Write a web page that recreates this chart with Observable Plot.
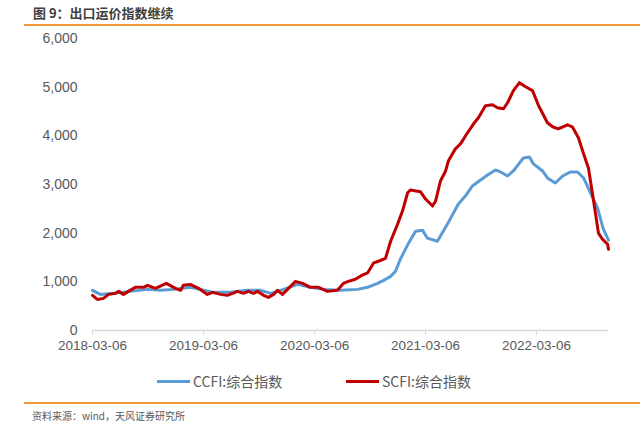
<!DOCTYPE html>
<html>
<head>
<meta charset="utf-8">
<script src="https://cdn.jsdelivr.net/npm/d3@7"></script>
<script src="https://cdn.jsdelivr.net/npm/@observablehq/plot@0.6"></script>
<style>
  body { margin: 0; background: #fff; }
  #wrap { position: relative; width: 640px; height: 427px; overflow: hidden; font-family: "Liberation Sans", "Noto Sans CJK SC", sans-serif; }
  #title { position: absolute; left: 33px; top: 3px; font-size: 13px; font-weight: bold; color: #404040; font-family: "Noto Sans CJK SC", sans-serif; }
  .rule { position: absolute; left: 24px; width: 616px; height: 1.5px; background: #F39A3C; }
  #chart { position: absolute; left: 0; top: 30px; }
  #legend { position: absolute; top: 371px; left: 0; width: 640px; height: 20px; font-size: 14px; color: #595959; font-family: "Noto Sans CJK SC", sans-serif; }
  .item { position: absolute; top: 0; display: flex; align-items: center; height: 20px; }
  .swatch { width: 33px; height: 3px; margin-right: 3px; }
  #source { position: absolute; left: 32px; top: 408px; font-size: 10px; color: #595959; font-family: "Noto Sans CJK SC", sans-serif; }
</style>
</head>
<body>
<div id="wrap">
  <div id="title">图 9：出口运价指数继续</div>
  <div class="rule" style="top:24px"></div>
  <div id="chart"></div>
  <div id="legend"></div>
  <div class="rule" style="top:402px"></div>
  <div id="source">资料来源：wind，天风证券研究所</div>
</div>
<script>
const seriesNames = ["CCFI:综合指数", "SCFI:综合指数"];
const seriesColors = ["#5B9BD5", "#C00000"];
const xTickLabels = ["2018-03-06", "2019-03-06", "2020-03-06", "2021-03-06", "2022-03-06"];
const yTicks = [0, 1000, 2000, 3000, 4000, 5000, 6000];

const ccfiDates = ["2018-03-06","2018-04-01","2018-05-14","2018-07-09","2018-09-03","2018-10-16","2018-11-28","2019-01-22","2019-02-24","2019-04-08","2019-06-03","2019-07-29","2019-09-10","2019-10-13","2019-11-24","2020-01-10","2020-02-21","2020-04-04","2020-05-30","2020-07-25","2020-08-27","2020-09-29","2020-10-19","2020-11-11","2020-11-27","2020-12-13","2021-01-09","2021-02-01","2021-02-24","2021-03-12","2021-04-14","2021-05-17","2021-06-22","2021-07-15","2021-08-07","2021-09-03","2021-09-26","2021-10-22","2021-11-08","2021-12-01","2021-12-20","2022-01-22","2022-02-11","2022-02-24","2022-03-26","2022-04-11","2022-05-07","2022-05-31","2022-06-26","2022-07-19","2022-08-08","2022-08-31","2022-09-23","2022-10-12","2022-10-29"];
const ccfiValues = [825,742,763,804,845,825,845,887,845,784,784,825,825,763,845,948,887,845,825,845,887,969,1031,1113,1216,1464,1794,2041,2062,1897,1835,2186,2598,2763,2969,3093,3196,3299,3258,3175,3278,3546,3567,3423,3278,3134,3031,3175,3258,3258,3134,2825,2515,2082,1856];

const scfiDates = ["2018-03-06","2018-03-22","2018-04-11","2018-04-28","2018-05-21","2018-05-31","2018-06-16","2018-07-02","2018-07-25","2018-08-21","2018-09-03","2018-09-29","2018-11-04","2018-12-04","2018-12-21","2018-12-30","2019-01-22","2019-02-18","2019-03-19","2019-04-05","2019-05-01","2019-05-24","2019-06-10","2019-06-26","2019-07-16","2019-08-01","2019-08-18","2019-08-31","2019-09-20","2019-10-06","2019-10-23","2019-11-05","2019-11-21","2019-12-11","2020-01-03","2020-01-26","2020-02-21","2020-03-19","2020-04-17","2020-05-20","2020-06-09","2020-06-25","2020-07-18","2020-08-10","2020-08-27","2020-09-16","2020-10-02","2020-10-25","2020-11-11","2020-12-04","2020-12-20","2021-01-06","2021-01-15","2021-02-17","2021-03-06","2021-03-29","2021-04-08","2021-04-24","2021-05-11","2021-05-20","2021-06-12","2021-06-29","2021-07-22","2021-08-11","2021-08-27","2021-09-19","2021-10-12","2021-10-29","2021-11-17","2021-12-01","2021-12-20","2022-01-09","2022-01-29","2022-02-21","2022-03-13","2022-04-11","2022-04-28","2022-05-17","2022-06-16","2022-07-02","2022-07-22","2022-08-08","2022-08-24","2022-09-10","2022-09-26","2022-10-09","2022-10-26","2022-10-29"];
const scfiValues = [722,639,660,742,763,804,742,804,887,887,928,866,969,866,825,928,948,866,742,784,742,722,763,804,763,804,763,804,722,680,742,825,742,866,1010,969,887,887,804,825,969,1010,1052,1140,1182,1388,1423,1480,1835,2186,2454,2831,2887,2852,2701,2557,2660,3072,3278,3485,3732,3835,4062,4247,4371,4619,4639,4577,4556,4680,4928,5093,5010,4928,4619,4268,4186,4144,4227,4186,3959,3629,3340,2660,2000,1876,1773,1670];

const parse = d3.utcParse("%Y-%m-%d");
const rows = [];
ccfiDates.forEach((d, i) => rows.push({date: parse(d), value: ccfiValues[i], series: seriesNames[0]}));
scfiDates.forEach((d, i) => rows.push({date: parse(d), value: scfiValues[i], series: seriesNames[1]}));
const tickDates = xTickLabels.map(parse);

const chart = Plot.plot({
  width: 640,
  height: 335,
  marginLeft: 92,
  marginRight: 32,
  marginTop: 8,
  marginBottom: 35,
  style: {fontFamily: "'Liberation Sans', 'Noto Sans CJK SC', sans-serif", fontSize: "14px", color: "#595959", background: "transparent"},
  x: {type: "utc", domain: [parse(ccfiDates[0]), parse(ccfiDates[ccfiDates.length - 1])]},
  y: {domain: [0, 6000]},
  color: {domain: seriesNames, range: seriesColors},
  marks: [
    Plot.axisY({ticks: yTicks, tickFormat: d3.format(","), tickSize: 0, tickPadding: 15, label: null, fill: "#595959"}),
    Plot.ruleY([0], {stroke: "#d9d9d9", strokeWidth: 1.5}),
    Plot.axisX({ticks: tickDates, tickFormat: d3.utcFormat("%Y-%m-%d"), tickSize: 5, tickPadding: 5, fontSize: 13.5, label: null, stroke: "#d9d9d9", fill: "#595959"}),
    Plot.line(rows.filter(r => r.series === seriesNames[0]), {x: "date", y: "value", stroke: "series", strokeWidth: 3}),
    Plot.line(rows.filter(r => r.series === seriesNames[1]), {x: "date", y: "value", stroke: "series", strokeWidth: 3})
  ]
});
document.getElementById("chart").appendChild(chart);

const legend = document.getElementById("legend");
const lefts = [157, 346];
seriesNames.forEach((name, i) => {
  const item = document.createElement("div");
  item.className = "item";
  item.style.left = lefts[i] + "px";
  item.innerHTML = `<span class="swatch" style="background:${seriesColors[i]}"></span><span>${name}</span>`;
  legend.appendChild(item);
});
</script>
</body>
</html>
